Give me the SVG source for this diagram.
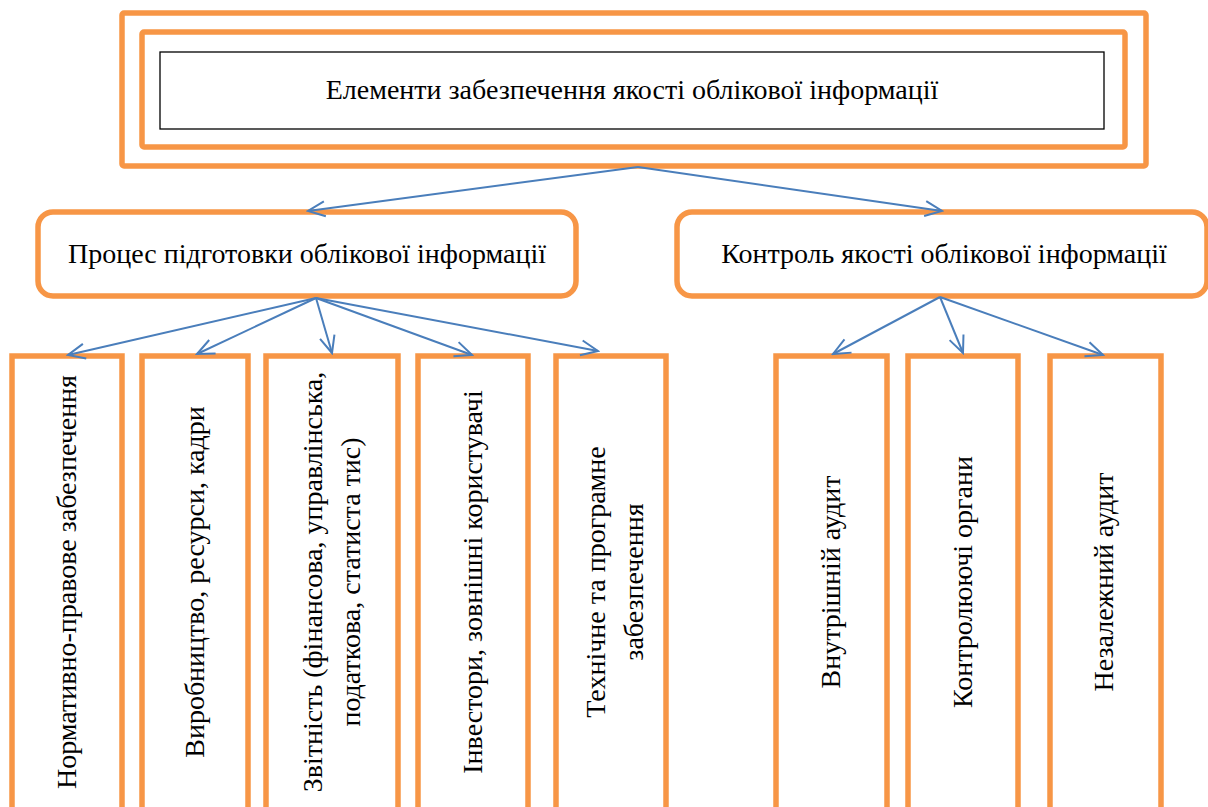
<svg xmlns="http://www.w3.org/2000/svg" width="1208" height="807" viewBox="0 0 1208 807">
<style>
.o{fill:#fff;stroke:#F79646;stroke-width:5.5}
.b{fill:#fff;stroke:#000;stroke-width:1.3}
.t{font-family:"Liberation Serif","Times New Roman",serif;font-size:28px;fill:#000;text-anchor:middle}
.c{stroke:#4A7EBB;stroke-width:2;fill:none;marker-end:url(#ah)}
</style>
<defs>
<marker id="ah" markerUnits="userSpaceOnUse" viewBox="0 0 22 18" refX="20" refY="9" markerWidth="22" markerHeight="18" orient="auto">
<path d="M3,1.5 L20,9 L3,16.5" fill="none" stroke="#4A7EBB" stroke-width="2"/>
</marker>
</defs>
<g id="top">
<rect class="o" x="122" y="13" width="1024" height="153" rx="2"/>
<rect class="o" x="142" y="32" width="983" height="115" rx="2"/>
<rect class="b" x="160" y="52" width="944" height="77"/>
<text class="t" x="632" y="99">Елементи забезпечення якості облікової інформації</text>
</g>
<g id="proc">
<rect class="o" x="38" y="212" width="538" height="84" rx="15"/>
<text class="t" x="307" y="263">Процес підготовки облікової інформації</text>
</g>
<g id="ctrl">
<rect class="o" x="677" y="212" width="530" height="84" rx="15"/>
<text class="t" x="944" y="263">Контроль якості облікової інформації</text>
</g>
<g id="n1">
<rect class="o" x="12" y="356" width="110" height="480"/>
<text class="t" transform="translate(76,582) rotate(-90)">Нормативно-правове забезпечення</text>
</g>
<g id="n2">
<rect class="o" x="142" y="356" width="106" height="480"/>
<text class="t" transform="translate(204,582) rotate(-90)">Виробництво, ресурси, кадри</text>
</g>
<g id="n3">
<rect class="o" x="266" y="356" width="132" height="480"/>
<text class="t" transform="translate(322,582) rotate(-90)">Звітність (фінансова, управлінська,</text>
<text class="t" transform="translate(360,582) rotate(-90)">податкова, статиста тис)</text>
</g>
<g id="n4">
<rect class="o" x="418" y="356" width="110" height="480"/>
<text class="t" transform="translate(482,582) rotate(-90)">Інвестори, зовнішні користувачі</text>
</g>
<g id="n5">
<rect class="o" x="556" y="356" width="110" height="480"/>
<text class="t" transform="translate(605,582) rotate(-90)">Технічне та програмне</text>
<text class="t" transform="translate(643,582) rotate(-90)">забезпечення</text>
</g>
<g id="n6">
<rect class="o" x="776" y="356" width="111" height="480"/>
<text class="t" transform="translate(840,582) rotate(-90)">Внутрішній аудит</text>
</g>
<g id="n7">
<rect class="o" x="908" y="356" width="110" height="480"/>
<text class="t" transform="translate(972,582) rotate(-90)">Контролюючі органи</text>
</g>
<g id="n8">
<rect class="o" x="1050" y="356" width="111" height="480"/>
<text class="t" transform="translate(1113,582) rotate(-90)">Незалежний аудит</text>
</g>
<g id="connectors">
<line class="c" x1="638" y1="167" x2="308" y2="211"/>
<line class="c" x1="638" y1="167" x2="942" y2="211"/>
<line class="c" x1="316" y1="298" x2="68" y2="355"/>
<line class="c" x1="316" y1="298" x2="197" y2="354"/>
<line class="c" x1="316" y1="298" x2="332" y2="353"/>
<line class="c" x1="316" y1="298" x2="472" y2="355"/>
<line class="c" x1="316" y1="298" x2="598" y2="351"/>
<line class="c" x1="940" y1="297" x2="833" y2="354"/>
<line class="c" x1="940" y1="297" x2="963" y2="353"/>
<line class="c" x1="940" y1="297" x2="1103" y2="355"/>
</g>
</svg>
